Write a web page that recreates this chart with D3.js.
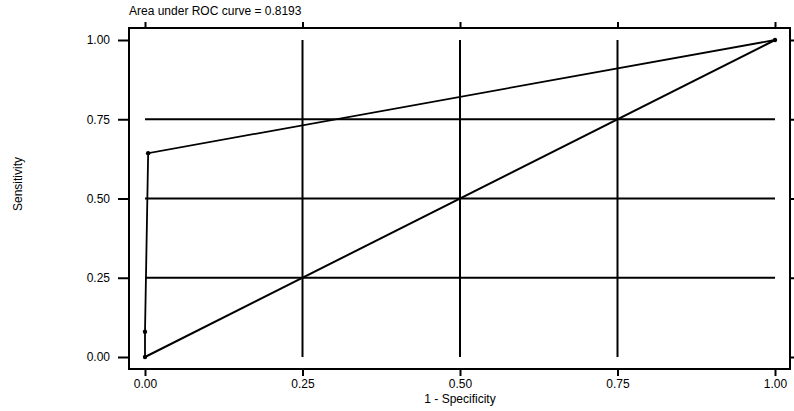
<!DOCTYPE html>
<html>
<head>
<meta charset="utf-8">
<script src="https://cdn.jsdelivr.net/npm/d3@7"></script>
<style>
  body { margin: 0; background: #fff; }
  text { font-family: "Liberation Sans", Arial, sans-serif; fill: #000; }
</style>
</head>
<body>
<div id="chart"></div>
<script>
// ROC points (1 - specificity, sensitivity)
var fpr = [0, 0, 0.005, 1];
var sens = [0, 0.08, 0.643, 1];
var tickVals = [0, 0.25, 0.5, 0.75, 1];
var aucText = "Area under ROC curve = 0.8193";

var W = 794, H = 411;
var frame = {left: 129, top: 28, right: 790, bottom: 369};

var x = d3.scaleLinear().domain([0, 1]).range([145, 775]),
    y = d3.scaleLinear().domain([0, 1]).range([357, 40]);

var svg = d3.select("#chart").append("svg")
    .attr("width", W)
    .attr("height", H);

// grid lines only over the data range
var grid = svg.append("g").attr("stroke", "#000").attr("stroke-width", 2);
grid.selectAll(".gx").data(tickVals.slice(1, 4)).enter().append("line")
    .attr("x1", function(d) { return x(d); }).attr("x2", function(d) { return x(d); })
    .attr("y1", y(1)).attr("y2", y(0));
grid.selectAll(".gy").data(tickVals.slice(1, 4)).enter().append("line")
    .attr("y1", function(d) { return y(d); }).attr("y2", function(d) { return y(d); })
    .attr("x1", x(0)).attr("x2", x(1));

// frame
svg.append("rect")
    .attr("x", frame.left).attr("y", frame.top)
    .attr("width", frame.right - frame.left)
    .attr("height", frame.bottom - frame.top)
    .attr("fill", "none").attr("stroke", "#000").attr("stroke-width", 2);

var fmt = d3.format(".2f");

// bottom axis
var xAxis = d3.axisBottom(x).tickValues(tickVals).tickFormat(fmt).tickSize(7).tickPadding(3);
var gx = svg.append("g").attr("transform", "translate(0," + frame.bottom + ")").call(xAxis);
// top ticks
var gxt = svg.append("g").attr("transform", "translate(0," + frame.top + ")")
    .call(d3.axisTop(x).tickValues(tickVals).tickFormat("").tickSize(6));
// left axis
var yAxis = d3.axisLeft(y).tickValues(tickVals).tickFormat(fmt).tickSize(11).tickPadding(8);
var gy = svg.append("g").attr("transform", "translate(" + frame.left + ",0)").call(yAxis);
// right ticks
var gyr = svg.append("g").attr("transform", "translate(" + frame.right + ",0)")
    .call(d3.axisRight(y).tickValues(tickVals).tickFormat("").tickSize(5));

[gx, gxt, gy, gyr].forEach(function(g) {
    g.select(".domain").remove();
    g.selectAll(".tick line").attr("stroke", "#000").attr("stroke-width", 2);
    g.selectAll("text").style("font-size", "12px").style("font-family", "Liberation Sans, Arial, sans-serif").attr("fill", "#000");
});

// reference diagonal
svg.append("line")
    .attr("x1", x(0)).attr("y1", y(0))
    .attr("x2", x(1)).attr("y2", y(1))
    .attr("stroke", "#000").attr("stroke-width", 2);

// ROC curve
var pts = fpr.map(function(d, i) { return [d, sens[i]]; });
svg.append("path")
    .datum(pts)
    .attr("fill", "none").attr("stroke", "#000").attr("stroke-width", 1.8)
    .attr("d", d3.line().x(function(d) { return x(d[0]); }).y(function(d) { return y(d[1]); }));

svg.append("g").selectAll("circle")
    .data(pts).enter().append("circle")
    .attr("cx", function(d) { return x(d[0]); })
    .attr("cy", function(d) { return y(d[1]); })
    .attr("r", 2.2).attr("fill", "#000");

// titles
svg.append("text")
    .attr("x", frame.left).attr("y", 15)
    .style("font-size", "12px")
    .text(aucText);

svg.append("text")
    .attr("x", (x(0) + x(1)) / 2).attr("y", 403)
    .attr("text-anchor", "middle")
    .style("font-size", "12px")
    .text("1 - Specificity");

svg.append("text")
    .attr("transform", "translate(22,184) rotate(-90)")
    .attr("text-anchor", "middle")
    .style("font-size", "12px")
    .text("Sensitivity");
</script>
</body>
</html>
